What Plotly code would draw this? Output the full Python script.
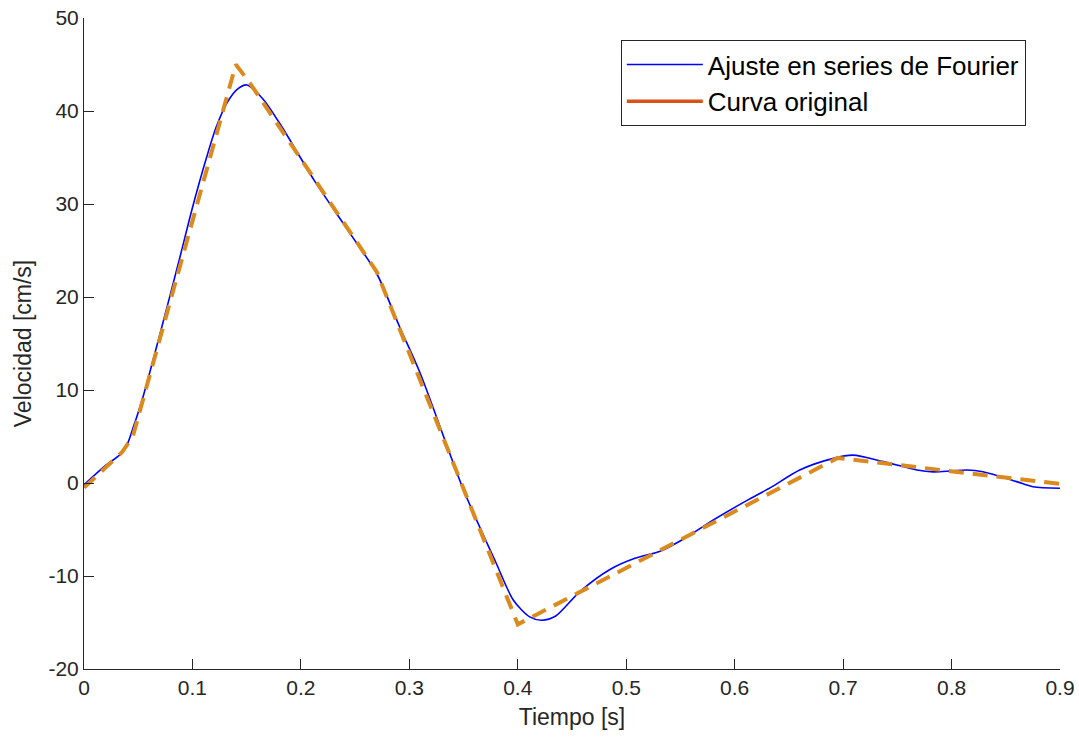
import plotly.graph_objects as go

# Original curve (piecewise linear, dashed)
orig_t = [0.0, 0.035, 0.045, 0.14, 0.153, 0.27, 0.40, 0.695, 0.9]
orig_v = [-0.5, 3.3, 5.0, 45.0, 43.0, 22.7, -15.2, 2.7, -0.1]

# Fourier fit (smooth)
fit_t = [0.0, 0.018, 0.037, 0.046, 0.055, 0.07, 0.0885, 0.1, 0.113, 0.122,
         0.132, 0.141, 0.150, 0.165, 0.183, 0.212, 0.245, 0.27, 0.291, 0.31,
         0.35, 0.38, 0.396, 0.411, 0.422, 0.435, 0.457, 0.485, 0.508, 0.532,
         0.556, 0.58, 0.611, 0.633, 0.66, 0.691, 0.709, 0.737, 0.768, 0.783,
         0.800, 0.814, 0.829, 0.86, 0.875, 0.9]
fit_v = [-0.2, 1.7, 3.5, 6.2, 9.5, 16.0, 24.3, 29.6, 35.0, 38.3,
         40.9, 42.3, 42.8, 41.3, 38.2, 32.6, 26.9, 22.5, 16.8, 11.8,
         -0.75, -8.6, -12.6, -14.4, -14.75, -14.3, -11.7, -9.3, -8.1, -7.3,
         -5.8, -4.0, -1.9, -0.5, 1.4, 2.65, 3.0, 2.3, 1.4, 1.2,
         1.3, 1.4, 1.2, 0.15, -0.4, -0.57]

x_ticks = [0, 0.1, 0.2, 0.3, 0.4, 0.5, 0.6, 0.7, 0.8, 0.9]
x_labels = ["0", "0.1", "0.2", "0.3", "0.4", "0.5", "0.6", "0.7", "0.8", "0.9"]
y_ticks = [-20, -10, 0, 10, 20, 30, 40, 50]
y_labels = ["-20", "-10", "0", "10", "20", "30", "40", "50"]

FONT = "Liberation Sans, Arial, sans-serif"
AX = "#262626"

fig = go.Figure()
fig.add_trace(go.Scatter(
    x=fit_t, y=fit_v, mode="lines", name="Ajuste en series de Fourier",
    line=dict(color="#0000FF", width=1.6, shape="spline", smoothing=0.8),
))
fig.add_trace(go.Scatter(
    x=orig_t, y=orig_v, mode="lines", name="Curva original", showlegend=False,
    line=dict(color="#DB8A1E", width=4, dash="15px,9px"),
))
fig.add_trace(go.Scatter(
    x=[None], y=[None], mode="lines", name="Curva original",
    line=dict(color="#D95319", width=3.5),
))

fig.update_layout(
    width=1079, height=738,
    margin=dict(l=84, r=19, t=18, b=69, autoexpand=False),
    paper_bgcolor="white", plot_bgcolor="white",
    font=dict(family=FONT, color=AX),
    showlegend=True,
    legend=dict(
        x=0.550, y=0.966, xanchor="left", yanchor="top",
        bgcolor="white", bordercolor="#262626", borderwidth=1,
        font=dict(family=FONT, size=26, color="#000000"),
        tracegroupgap=0, itemwidth=76,
    ),
    xaxis=dict(
        range=[0, 0.9], tickvals=x_ticks, ticktext=x_labels, automargin=False,
        showgrid=False, zeroline=False, showline=True, linecolor=AX, linewidth=1,
        ticks="inside", ticklen=10, tickcolor=AX,
        tickfont=dict(family=FONT, size=21, color=AX),
        title=dict(text="Tiempo [s]", font=dict(family=FONT, size=23, color=AX), standoff=10),
    ),
    yaxis=dict(
        range=[-20, 50], tickvals=y_ticks, ticktext=y_labels, automargin=False,
        showgrid=False, zeroline=False, showline=True, linecolor=AX, linewidth=1,
        ticks="inside", ticklen=10, tickcolor=AX,
        tickfont=dict(family=FONT, size=21, color=AX),
        title=dict(text="Velocidad [cm/s]", font=dict(family=FONT, size=23, color=AX), standoff=10),
    ),
)

fig.write_html("out.html")
